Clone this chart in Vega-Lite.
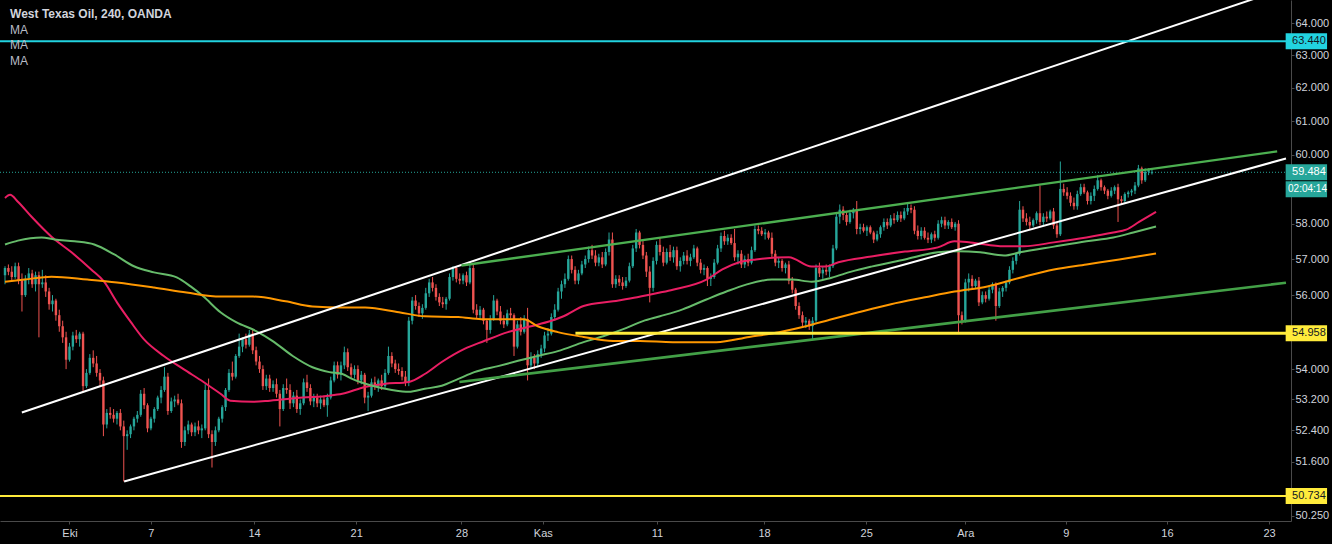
{
"$schema": "https://vega.github.io/schema/vega-lite/v6.json",
"width": 1291, "height": 521,
"autosize": {"type": "none"},
"padding": {"left": 0, "top": 0, "right": 41, "bottom": 23},
"background": "#000000",
"config": {"view": {"stroke": null}, "axis": {"grid": false, "domainColor": "#4a4a4a", "tickColor": "#4a4a4a", "labelColor": "#d1d4dc", "labelFont": "Liberation Sans", "labelFontSize": 11, "title": null}},
"datasets": {
"candles": [
{"i":0,"o":56.55,"h":56.8,"l":56.3,"c":56.75},{"i":1,"o":56.75,"h":56.85,"l":56.55,"c":56.65},{"i":2,"o":56.65,"h":56.8,"l":56.4,"c":56.5},{"i":3,"o":56.5,"h":56.9,"l":56.45,"c":56.8},{"i":4,"o":56.8,"h":56.9,"l":56.3,"c":56.4},{"i":5,"o":56.4,"h":56.6,"l":55.55,"c":56.0},{"i":6,"o":56.0,"h":56.55,"l":55.95,"c":56.45},{"i":7,"o":56.45,"h":56.75,"l":56.3,"c":56.6},{"i":8,"o":56.6,"h":56.7,"l":56.2,"c":56.3},{"i":9,"o":56.3,"h":56.65,"l":56.1,"c":56.55},
{"i":10,"o":56.55,"h":56.65,"l":54.85,"c":56.3},{"i":11,"o":56.3,"h":56.7,"l":56.2,"c":56.35},{"i":12,"o":56.35,"h":56.55,"l":55.95,"c":56.1},{"i":13,"o":56.1,"h":56.2,"l":55.6,"c":55.75},{"i":14,"o":55.75,"h":56.0,"l":55.55,"c":55.85},{"i":15,"o":55.85,"h":55.9,"l":55.3,"c":55.45},{"i":16,"o":55.45,"h":55.6,"l":55.0,"c":55.15},{"i":17,"o":55.15,"h":55.3,"l":54.7,"c":54.85},{"i":18,"o":54.85,"h":55.0,"l":54.0,"c":54.25},{"i":19,"o":54.25,"h":54.7,"l":54.2,"c":54.6},
{"i":20,"o":54.6,"h":55.0,"l":54.5,"c":54.9},{"i":21,"o":54.9,"h":55.05,"l":54.7,"c":54.8},{"i":22,"o":54.8,"h":55.0,"l":54.6,"c":54.95},{"i":23,"o":54.95,"h":55.0,"l":53.4,"c":53.55},{"i":24,"o":53.55,"h":54.0,"l":53.5,"c":53.9},{"i":25,"o":53.9,"h":54.4,"l":53.85,"c":54.3},{"i":26,"o":54.3,"h":54.5,"l":54.05,"c":54.15},{"i":27,"o":54.15,"h":54.35,"l":53.8,"c":53.9},{"i":28,"o":53.9,"h":54.0,"l":53.55,"c":53.7},{"i":29,"o":53.7,"h":53.8,"l":52.25,"c":52.55},
{"i":30,"o":52.55,"h":52.95,"l":52.45,"c":52.85},{"i":31,"o":52.85,"h":53.0,"l":52.7,"c":52.8},{"i":32,"o":52.8,"h":52.95,"l":52.6,"c":52.7},{"i":33,"o":52.7,"h":52.9,"l":52.55,"c":52.85},{"i":34,"o":52.85,"h":52.95,"l":52.4,"c":52.5},{"i":35,"o":52.5,"h":52.65,"l":51.1,"c":52.25},{"i":36,"o":52.25,"h":52.4,"l":51.9,"c":52.3},{"i":37,"o":52.3,"h":52.55,"l":52.2,"c":52.5},{"i":38,"o":52.5,"h":52.75,"l":52.4,"c":52.7},{"i":39,"o":52.7,"h":52.9,"l":52.6,"c":52.8},
{"i":40,"o":52.8,"h":53.45,"l":52.75,"c":53.35},{"i":41,"o":53.35,"h":53.5,"l":52.95,"c":53.05},{"i":42,"o":53.05,"h":53.1,"l":52.35,"c":52.45},{"i":43,"o":52.45,"h":52.75,"l":52.4,"c":52.7},{"i":44,"o":52.7,"h":53.0,"l":52.6,"c":52.95},{"i":45,"o":52.95,"h":53.3,"l":52.9,"c":53.25},{"i":46,"o":53.25,"h":53.55,"l":53.1,"c":53.45},{"i":47,"o":53.45,"h":54.05,"l":53.4,"c":53.8},{"i":48,"o":53.8,"h":53.9,"l":52.8,"c":52.9},{"i":49,"o":52.9,"h":53.25,"l":52.85,"c":53.15},
{"i":50,"o":53.15,"h":53.3,"l":53.0,"c":53.2},{"i":51,"o":53.2,"h":53.35,"l":53.05,"c":53.1},{"i":52,"o":53.1,"h":53.2,"l":51.95,"c":52.1},{"i":53,"o":52.1,"h":52.5,"l":52.0,"c":52.4},{"i":54,"o":52.4,"h":52.65,"l":52.3,"c":52.55},{"i":55,"o":52.55,"h":52.6,"l":52.25,"c":52.35},{"i":56,"o":52.35,"h":52.6,"l":52.25,"c":52.5},{"i":57,"o":52.5,"h":52.65,"l":52.3,"c":52.4},{"i":58,"o":52.4,"h":52.55,"l":52.2,"c":52.45},{"i":59,"o":52.45,"h":53.6,"l":52.4,"c":53.45},
{"i":60,"o":53.45,"h":53.75,"l":52.2,"c":52.3},{"i":61,"o":52.3,"h":52.4,"l":51.45,"c":52.1},{"i":62,"o":52.1,"h":52.5,"l":52.0,"c":52.4},{"i":63,"o":52.4,"h":52.75,"l":52.35,"c":52.7},{"i":64,"o":52.7,"h":53.05,"l":52.6,"c":53.0},{"i":65,"o":53.0,"h":53.5,"l":52.9,"c":53.45},{"i":66,"o":53.45,"h":54.0,"l":53.4,"c":53.9},{"i":67,"o":53.9,"h":54.2,"l":53.7,"c":53.8},{"i":68,"o":53.8,"h":54.4,"l":53.75,"c":54.35},{"i":69,"o":54.35,"h":54.95,"l":54.3,"c":54.6},
{"i":70,"o":54.6,"h":54.85,"l":54.45,"c":54.8},{"i":71,"o":54.8,"h":54.95,"l":54.55,"c":54.65},{"i":72,"o":54.65,"h":55.05,"l":54.6,"c":54.95},{"i":73,"o":54.95,"h":55.05,"l":54.4,"c":54.5},{"i":74,"o":54.5,"h":54.6,"l":54.1,"c":54.2},{"i":75,"o":54.2,"h":54.35,"l":53.9,"c":54.0},{"i":76,"o":54.0,"h":54.1,"l":53.45,"c":53.55},{"i":77,"o":53.55,"h":53.85,"l":53.45,"c":53.75},{"i":78,"o":53.75,"h":53.85,"l":53.4,"c":53.5},{"i":79,"o":53.5,"h":53.7,"l":53.4,"c":53.6},
{"i":80,"o":53.6,"h":53.75,"l":53.25,"c":53.35},{"i":81,"o":53.35,"h":53.45,"l":52.5,"c":52.95},{"i":82,"o":52.95,"h":53.6,"l":52.9,"c":53.5},{"i":83,"o":53.5,"h":53.75,"l":53.35,"c":53.45},{"i":84,"o":53.45,"h":53.6,"l":52.95,"c":53.1},{"i":85,"o":53.1,"h":53.4,"l":53.0,"c":53.3},{"i":86,"o":53.3,"h":53.45,"l":52.85,"c":52.95},{"i":87,"o":52.95,"h":53.2,"l":52.8,"c":53.1},{"i":88,"o":53.1,"h":53.75,"l":53.05,"c":53.65},{"i":89,"o":53.65,"h":53.85,"l":53.4,"c":53.5},
{"i":90,"o":53.5,"h":53.6,"l":53.05,"c":53.15},{"i":91,"o":53.15,"h":53.35,"l":53.0,"c":53.25},{"i":92,"o":53.25,"h":53.35,"l":53.0,"c":53.1},{"i":93,"o":53.1,"h":53.3,"l":52.95,"c":53.2},{"i":94,"o":53.2,"h":53.3,"l":53.0,"c":53.05},{"i":95,"o":53.05,"h":53.35,"l":52.75,"c":53.25},{"i":96,"o":53.25,"h":53.8,"l":53.2,"c":53.7},{"i":97,"o":53.7,"h":54.2,"l":53.65,"c":54.1},{"i":98,"o":54.1,"h":54.2,"l":53.75,"c":53.85},{"i":99,"o":53.85,"h":54.2,"l":53.7,"c":54.1},
{"i":100,"o":54.1,"h":54.6,"l":54.0,"c":54.45},{"i":101,"o":54.45,"h":54.55,"l":53.95,"c":54.05},{"i":102,"o":54.05,"h":54.15,"l":53.75,"c":53.85},{"i":103,"o":53.85,"h":54.1,"l":53.75,"c":54.0},{"i":104,"o":54.0,"h":54.1,"l":53.6,"c":53.7},{"i":105,"o":53.7,"h":53.95,"l":53.6,"c":53.85},{"i":106,"o":53.85,"h":53.9,"l":53.1,"c":53.25},{"i":107,"o":53.25,"h":53.4,"l":52.9,"c":53.3},{"i":108,"o":53.3,"h":53.75,"l":53.25,"c":53.65},{"i":109,"o":53.65,"h":53.8,"l":53.45,"c":53.55},
{"i":110,"o":53.55,"h":53.75,"l":53.4,"c":53.7},{"i":111,"o":53.7,"h":53.85,"l":53.45,"c":53.55},{"i":112,"o":53.55,"h":54.0,"l":53.5,"c":53.9},{"i":113,"o":53.9,"h":54.6,"l":53.85,"c":54.35},{"i":114,"o":54.35,"h":54.45,"l":54.05,"c":54.15},{"i":115,"o":54.15,"h":54.25,"l":53.9,"c":54.0},{"i":116,"o":54.0,"h":54.15,"l":53.85,"c":53.95},{"i":117,"o":53.95,"h":54.05,"l":53.7,"c":53.8},{"i":118,"o":53.8,"h":53.95,"l":53.55,"c":53.65},{"i":119,"o":53.65,"h":55.4,"l":53.55,"c":55.3},
{"i":120,"o":55.3,"h":55.95,"l":55.2,"c":55.85},{"i":121,"o":55.85,"h":56.0,"l":55.6,"c":55.7},{"i":122,"o":55.7,"h":55.8,"l":55.4,"c":55.5},{"i":123,"o":55.5,"h":55.75,"l":55.35,"c":55.65},{"i":124,"o":55.65,"h":56.2,"l":55.6,"c":56.05},{"i":125,"o":56.05,"h":56.45,"l":55.95,"c":56.35},{"i":126,"o":56.35,"h":56.5,"l":56.1,"c":56.2},{"i":127,"o":56.2,"h":56.3,"l":55.85,"c":55.95},{"i":128,"o":55.95,"h":56.05,"l":55.7,"c":55.8},{"i":129,"o":55.8,"h":55.95,"l":55.65,"c":55.75},
{"i":130,"o":55.75,"h":55.95,"l":55.6,"c":55.9},{"i":131,"o":55.9,"h":56.6,"l":55.85,"c":56.5},{"i":132,"o":56.5,"h":56.8,"l":56.4,"c":56.75},{"i":133,"o":56.75,"h":56.8,"l":56.35,"c":56.45},{"i":134,"o":56.45,"h":56.6,"l":56.3,"c":56.4},{"i":135,"o":56.4,"h":56.6,"l":56.3,"c":56.55},{"i":136,"o":56.55,"h":56.65,"l":56.25,"c":56.35},{"i":137,"o":56.35,"h":56.9,"l":56.3,"c":56.75},{"i":138,"o":56.75,"h":56.85,"l":55.5,"c":55.6},{"i":139,"o":55.6,"h":55.75,"l":55.35,"c":55.45},
{"i":140,"o":55.45,"h":55.7,"l":55.35,"c":55.6},{"i":141,"o":55.6,"h":55.65,"l":55.2,"c":55.3},{"i":142,"o":55.3,"h":55.35,"l":54.7,"c":55.05},{"i":143,"o":55.05,"h":55.45,"l":54.95,"c":55.35},{"i":144,"o":55.35,"h":56.0,"l":55.3,"c":55.85},{"i":145,"o":55.85,"h":55.9,"l":55.45,"c":55.55},{"i":146,"o":55.55,"h":55.7,"l":55.2,"c":55.3},{"i":147,"o":55.3,"h":55.45,"l":55.1,"c":55.2},{"i":148,"o":55.2,"h":55.6,"l":55.15,"c":55.5},{"i":149,"o":55.5,"h":55.65,"l":55.35,"c":55.45},
{"i":150,"o":55.45,"h":55.5,"l":54.35,"c":54.6},{"i":151,"o":54.6,"h":55.3,"l":54.55,"c":55.2},{"i":152,"o":55.2,"h":55.4,"l":54.9,"c":55.0},{"i":153,"o":55.0,"h":55.45,"l":54.95,"c":55.35},{"i":154,"o":55.35,"h":55.65,"l":53.7,"c":54.1},{"i":155,"o":54.1,"h":54.45,"l":54.0,"c":54.3},{"i":156,"o":54.3,"h":54.4,"l":54.0,"c":54.15},{"i":157,"o":54.15,"h":54.5,"l":54.05,"c":54.4},{"i":158,"o":54.4,"h":54.65,"l":54.3,"c":54.55},{"i":159,"o":54.55,"h":55.0,"l":54.45,"c":54.9},
{"i":160,"o":54.9,"h":55.1,"l":54.75,"c":54.95},{"i":161,"o":54.95,"h":55.5,"l":54.9,"c":55.4},{"i":162,"o":55.4,"h":55.75,"l":55.3,"c":55.6},{"i":163,"o":55.6,"h":56.2,"l":55.55,"c":56.1},{"i":164,"o":56.1,"h":56.4,"l":55.9,"c":56.3},{"i":165,"o":56.3,"h":56.6,"l":56.2,"c":56.45},{"i":166,"o":56.45,"h":57.1,"l":56.4,"c":57.0},{"i":167,"o":57.0,"h":57.1,"l":56.6,"c":56.7},{"i":168,"o":56.7,"h":56.8,"l":56.3,"c":56.4},{"i":169,"o":56.4,"h":56.7,"l":56.3,"c":56.6},
{"i":170,"o":56.6,"h":56.95,"l":56.55,"c":56.85},{"i":171,"o":56.85,"h":57.1,"l":56.75,"c":57.0},{"i":172,"o":57.0,"h":57.35,"l":56.9,"c":57.25},{"i":173,"o":57.25,"h":57.4,"l":57.0,"c":57.1},{"i":174,"o":57.1,"h":57.25,"l":56.8,"c":56.9},{"i":175,"o":56.9,"h":57.15,"l":56.8,"c":57.05},{"i":176,"o":57.05,"h":57.2,"l":56.75,"c":56.85},{"i":177,"o":56.85,"h":57.3,"l":56.8,"c":57.2},{"i":178,"o":57.2,"h":57.75,"l":57.1,"c":57.55},{"i":179,"o":57.55,"h":57.75,"l":56.2,"c":56.3},
{"i":180,"o":56.3,"h":56.55,"l":56.2,"c":56.45},{"i":181,"o":56.45,"h":56.55,"l":56.25,"c":56.35},{"i":182,"o":56.35,"h":56.5,"l":56.15,"c":56.25},{"i":183,"o":56.25,"h":56.5,"l":56.2,"c":56.4},{"i":184,"o":56.4,"h":56.9,"l":56.35,"c":56.8},{"i":185,"o":56.8,"h":57.4,"l":56.75,"c":57.3},{"i":186,"o":57.3,"h":57.85,"l":57.2,"c":57.75},{"i":187,"o":57.75,"h":57.8,"l":57.3,"c":57.4},{"i":188,"o":57.4,"h":57.55,"l":57.0,"c":57.1},{"i":189,"o":57.1,"h":57.2,"l":56.5,"c":56.65},
{"i":190,"o":56.65,"h":56.8,"l":55.8,"c":56.2},{"i":191,"o":56.2,"h":57.05,"l":56.1,"c":56.95},{"i":192,"o":56.95,"h":57.5,"l":56.85,"c":57.4},{"i":193,"o":57.4,"h":57.6,"l":57.1,"c":57.2},{"i":194,"o":57.2,"h":57.35,"l":56.8,"c":56.9},{"i":195,"o":56.9,"h":57.3,"l":56.85,"c":57.2},{"i":196,"o":57.2,"h":57.4,"l":56.95,"c":57.05},{"i":197,"o":57.05,"h":57.35,"l":56.9,"c":57.25},{"i":198,"o":57.25,"h":57.35,"l":56.7,"c":56.8},{"i":199,"o":56.8,"h":57.05,"l":56.65,"c":56.95},
{"i":200,"o":56.95,"h":57.2,"l":56.85,"c":57.1},{"i":201,"o":57.1,"h":57.25,"l":56.85,"c":56.95},{"i":202,"o":56.95,"h":57.15,"l":56.8,"c":57.05},{"i":203,"o":57.05,"h":57.4,"l":57.0,"c":57.3},{"i":204,"o":57.3,"h":57.35,"l":56.8,"c":56.9},{"i":205,"o":56.9,"h":57.0,"l":56.6,"c":56.7},{"i":206,"o":56.7,"h":56.85,"l":56.55,"c":56.75},{"i":207,"o":56.75,"h":56.8,"l":56.25,"c":56.45},{"i":208,"o":56.45,"h":56.6,"l":56.25,"c":56.5},{"i":209,"o":56.5,"h":57.0,"l":56.45,"c":56.9},
{"i":210,"o":56.9,"h":57.4,"l":56.85,"c":57.3},{"i":211,"o":57.3,"h":57.75,"l":57.2,"c":57.65},{"i":212,"o":57.65,"h":57.8,"l":57.4,"c":57.5},{"i":213,"o":57.5,"h":57.7,"l":57.4,"c":57.6},{"i":214,"o":57.6,"h":57.7,"l":57.4,"c":57.45},{"i":215,"o":57.45,"h":57.85,"l":56.95,"c":57.05},{"i":216,"o":57.05,"h":57.25,"l":56.85,"c":57.15},{"i":217,"o":57.15,"h":57.25,"l":56.75,"c":56.85},{"i":218,"o":56.85,"h":57.1,"l":56.75,"c":57.0},{"i":219,"o":57.0,"h":57.15,"l":56.8,"c":56.9},
{"i":220,"o":56.9,"h":57.35,"l":56.85,"c":57.25},{"i":221,"o":57.25,"h":57.95,"l":57.2,"c":57.85},{"i":222,"o":57.85,"h":57.95,"l":57.7,"c":57.8},{"i":223,"o":57.8,"h":57.9,"l":57.65,"c":57.7},{"i":224,"o":57.7,"h":57.85,"l":57.55,"c":57.75},{"i":225,"o":57.75,"h":57.8,"l":57.55,"c":57.6},{"i":226,"o":57.6,"h":57.75,"l":57.05,"c":57.15},{"i":227,"o":57.15,"h":57.25,"l":56.8,"c":56.9},{"i":228,"o":56.9,"h":57.05,"l":56.75,"c":56.95},{"i":229,"o":56.95,"h":57.0,"l":56.65,"c":56.75},
{"i":230,"o":56.75,"h":56.9,"l":56.6,"c":56.85},{"i":231,"o":56.85,"h":56.95,"l":56.3,"c":56.4},{"i":232,"o":56.4,"h":56.5,"l":56.05,"c":56.15},{"i":233,"o":56.15,"h":56.2,"l":55.6,"c":55.7},{"i":234,"o":55.7,"h":55.8,"l":55.35,"c":55.45},{"i":235,"o":55.45,"h":55.55,"l":55.15,"c":55.25},{"i":236,"o":55.25,"h":55.4,"l":55.1,"c":55.3},{"i":237,"o":55.3,"h":55.35,"l":55.05,"c":55.15},{"i":238,"o":55.15,"h":55.4,"l":54.8,"c":55.3},{"i":239,"o":55.3,"h":56.85,"l":55.25,"c":56.75},
{"i":240,"o":56.75,"h":56.9,"l":56.5,"c":56.6},{"i":241,"o":56.6,"h":56.8,"l":56.45,"c":56.7},{"i":242,"o":56.7,"h":56.85,"l":56.55,"c":56.65},{"i":243,"o":56.65,"h":56.85,"l":56.5,"c":56.8},{"i":244,"o":56.8,"h":57.4,"l":56.75,"c":57.3},{"i":245,"o":57.3,"h":58.3,"l":57.25,"c":58.2},{"i":246,"o":58.2,"h":58.55,"l":58.0,"c":58.4},{"i":247,"o":58.4,"h":58.5,"l":58.1,"c":58.25},{"i":248,"o":58.25,"h":58.35,"l":57.95,"c":58.05},{"i":249,"o":58.05,"h":58.4,"l":58.0,"c":58.3},
{"i":250,"o":58.3,"h":58.45,"l":58.15,"c":58.4},{"i":251,"o":58.4,"h":58.65,"l":57.7,"c":57.85},{"i":252,"o":57.85,"h":58.0,"l":57.7,"c":57.9},{"i":253,"o":57.9,"h":58.0,"l":57.75,"c":57.8},{"i":254,"o":57.8,"h":57.95,"l":57.65,"c":57.9},{"i":255,"o":57.9,"h":57.95,"l":57.7,"c":57.75},{"i":256,"o":57.75,"h":57.8,"l":57.45,"c":57.55},{"i":257,"o":57.55,"h":57.8,"l":57.5,"c":57.7},{"i":258,"o":57.7,"h":57.95,"l":57.6,"c":57.9},{"i":259,"o":57.9,"h":58.15,"l":57.8,"c":58.05},
{"i":260,"o":58.05,"h":58.15,"l":57.85,"c":57.95},{"i":261,"o":57.95,"h":58.25,"l":57.9,"c":58.15},{"i":262,"o":58.15,"h":58.3,"l":58.0,"c":58.1},{"i":263,"o":58.1,"h":58.35,"l":58.05,"c":58.25},{"i":264,"o":58.25,"h":58.35,"l":58.05,"c":58.15},{"i":265,"o":58.15,"h":58.45,"l":58.1,"c":58.35},{"i":266,"o":58.35,"h":58.6,"l":58.25,"c":58.45},{"i":267,"o":58.45,"h":58.55,"l":58.3,"c":58.4},{"i":268,"o":58.4,"h":58.5,"l":57.7,"c":57.8},{"i":269,"o":57.8,"h":57.95,"l":57.55,"c":57.65},
{"i":270,"o":57.65,"h":57.9,"l":57.55,"c":57.8},{"i":271,"o":57.8,"h":57.9,"l":57.55,"c":57.6},{"i":272,"o":57.6,"h":57.75,"l":57.45,"c":57.55},{"i":273,"o":57.55,"h":57.75,"l":57.45,"c":57.7},{"i":274,"o":57.7,"h":57.8,"l":57.5,"c":57.6},{"i":275,"o":57.6,"h":58.1,"l":57.55,"c":58.0},{"i":276,"o":58.0,"h":58.2,"l":57.9,"c":58.1},{"i":277,"o":58.1,"h":58.2,"l":57.85,"c":57.95},{"i":278,"o":57.95,"h":58.1,"l":57.85,"c":58.05},{"i":279,"o":58.05,"h":58.15,"l":57.85,"c":57.9},
{"i":280,"o":57.9,"h":58.05,"l":57.8,"c":58.0},{"i":281,"o":58.0,"h":58.1,"l":54.95,"c":55.45},{"i":282,"o":55.45,"h":55.55,"l":55.2,"c":55.3},{"i":283,"o":55.3,"h":56.45,"l":55.25,"c":56.35},{"i":284,"o":56.35,"h":56.6,"l":56.1,"c":56.45},{"i":285,"o":56.45,"h":56.55,"l":56.15,"c":56.25},{"i":286,"o":56.25,"h":56.45,"l":56.2,"c":56.4},{"i":287,"o":56.4,"h":56.5,"l":55.7,"c":55.8},{"i":288,"o":55.8,"h":56.1,"l":55.75,"c":56.0},{"i":289,"o":56.0,"h":56.1,"l":55.8,"c":55.9},
{"i":290,"o":55.9,"h":56.25,"l":55.85,"c":56.15},{"i":291,"o":56.15,"h":56.35,"l":56.05,"c":56.3},{"i":292,"o":56.3,"h":56.35,"l":55.3,"c":55.7},{"i":293,"o":55.7,"h":56.2,"l":55.65,"c":56.1},{"i":294,"o":56.1,"h":56.25,"l":55.95,"c":56.2},{"i":295,"o":56.2,"h":56.4,"l":56.1,"c":56.35},{"i":296,"o":56.35,"h":56.8,"l":56.3,"c":56.7},{"i":297,"o":56.7,"h":57.05,"l":56.6,"c":56.95},{"i":298,"o":56.95,"h":57.2,"l":56.85,"c":57.15},{"i":299,"o":57.15,"h":58.65,"l":57.1,"c":58.4},
{"i":300,"o":58.4,"h":58.5,"l":58.05,"c":58.15},{"i":301,"o":58.15,"h":58.3,"l":57.95,"c":58.05},{"i":302,"o":58.05,"h":58.2,"l":57.85,"c":57.95},{"i":303,"o":57.95,"h":58.15,"l":57.9,"c":58.1},{"i":304,"o":58.1,"h":58.35,"l":58.0,"c":58.3},{"i":305,"o":58.3,"h":59.1,"l":57.95,"c":58.05},{"i":306,"o":58.05,"h":58.3,"l":57.95,"c":58.2},{"i":307,"o":58.2,"h":58.35,"l":58.05,"c":58.15},{"i":308,"o":58.15,"h":58.4,"l":58.1,"c":58.35},{"i":309,"o":58.35,"h":58.45,"l":57.85,"c":57.95},
{"i":310,"o":57.95,"h":58.05,"l":57.6,"c":57.7},{"i":311,"o":57.7,"h":59.8,"l":57.65,"c":59.0},{"i":312,"o":59.0,"h":59.15,"l":58.8,"c":58.9},{"i":313,"o":58.9,"h":59.05,"l":58.7,"c":58.8},{"i":314,"o":58.8,"h":58.9,"l":58.5,"c":58.6},{"i":315,"o":58.6,"h":58.75,"l":58.4,"c":58.5},{"i":316,"o":58.5,"h":58.95,"l":58.4,"c":58.85},{"i":317,"o":58.85,"h":59.15,"l":58.8,"c":59.05},{"i":318,"o":59.05,"h":59.15,"l":58.85,"c":58.9},{"i":319,"o":58.9,"h":58.95,"l":58.55,"c":58.65},
{"i":320,"o":58.65,"h":58.9,"l":58.55,"c":58.8},{"i":321,"o":58.8,"h":59.1,"l":58.65,"c":59.0},{"i":322,"o":59.0,"h":59.4,"l":58.95,"c":59.25},{"i":323,"o":59.25,"h":59.3,"l":58.95,"c":59.05},{"i":324,"o":59.05,"h":59.1,"l":58.85,"c":58.95},{"i":325,"o":58.95,"h":59.0,"l":58.7,"c":58.8},{"i":326,"o":58.8,"h":59.05,"l":58.75,"c":58.95},{"i":327,"o":58.95,"h":59.1,"l":58.85,"c":59.05},{"i":328,"o":59.05,"h":59.15,"l":58.05,"c":58.7},{"i":329,"o":58.7,"h":58.8,"l":58.55,"c":58.65},
{"i":330,"o":58.65,"h":58.9,"l":58.6,"c":58.85},{"i":331,"o":58.85,"h":58.95,"l":58.75,"c":58.9},{"i":332,"o":58.9,"h":59.0,"l":58.8,"c":58.95},{"i":333,"o":58.95,"h":59.2,"l":58.85,"c":59.1},{"i":334,"o":59.1,"h":59.7,"l":59.05,"c":59.6},{"i":335,"o":59.6,"h":59.65,"l":59.15,"c":59.25},{"i":336,"o":59.25,"h":59.6,"l":59.2,"c":59.5},{"i":337,"o":59.5,"h":59.6,"l":59.4,"c":59.55},{"i":338,"o":59.46,"h":59.58,"l":59.42,"c":59.484}
],
"ma": [
{"s":"MA1","b":0,"p":58.74},{"s":"MA1","b":1.5,"p":58.83},{"s":"MA1","b":3.8,"p":58.63},{"s":"MA1","b":7.9,"p":58.19},{"s":"MA1","b":13.7,"p":57.63},{"s":"MA1","b":19.6,"p":57.19},{"s":"MA1","b":25.4,"p":56.71},{"s":"MA1","b":29.2,"p":56.37},{"s":"MA1","b":33,"p":55.8},{"s":"MA1","b":37.1,"p":55.26},{"s":"MA1","b":40.9,"p":54.8},{"s":"MA1","b":46.8,"p":54.35},{"s":"MA1","b":52.6,"p":54.0},{"s":"MA1","b":58.5,"p":53.66},{"s":"MA1","b":63.5,"p":53.35},{"s":"MA1","b":66.4,"p":53.17},{"s":"MA1","b":73.1,"p":53.14},{"s":"MA1","b":78.1,"p":53.17},{"s":"MA1","b":87.7,"p":53.25},{"s":"MA1","b":95.6,"p":53.3},{"s":"MA1","b":99.4,"p":53.35},{"s":"MA1","b":106.1,"p":53.53},{"s":"MA1","b":112,"p":53.61},{"s":"MA1","b":119,"p":53.66},{"s":"MA1","b":123.7,"p":53.87},{"s":"MA1","b":128.7,"p":54.19},{"s":"MA1","b":135.4,"p":54.54},{"s":"MA1","b":141.2,"p":54.75},{"s":"MA1","b":148.2,"p":54.99},{"s":"MA1","b":155,"p":55.15},{"s":"MA1","b":160.8,"p":55.29},{"s":"MA1","b":164.6,"p":55.42},{"s":"MA1","b":170.5,"p":55.7},{"s":"MA1","b":179.2,"p":55.83},{"s":"MA1","b":186.3,"p":55.94},{"s":"MA1","b":193,"p":56.07},{"s":"MA1","b":196.8,"p":56.15},{"s":"MA1","b":206.7,"p":56.43},{"s":"MA1","b":211.4,"p":56.71},{"s":"MA1","b":216.4,"p":56.91},{"s":"MA1","b":221.3,"p":56.99},{"s":"MA1","b":231,"p":57.05},{"s":"MA1","b":237.7,"p":56.79},{"s":"MA1","b":241.8,"p":56.79},{"s":"MA1","b":245.6,"p":56.91},{"s":"MA1","b":255.3,"p":57.07},{"s":"MA1","b":265.2,"p":57.21},{"s":"MA1","b":274.9,"p":57.33},{"s":"MA1","b":279.8,"p":57.5},{"s":"MA1","b":284.5,"p":57.47},{"s":"MA1","b":294.4,"p":57.36},{"s":"MA1","b":300.3,"p":57.36},{"s":"MA1","b":309.1,"p":57.47},{"s":"MA1","b":318.7,"p":57.61},{"s":"MA1","b":326.6,"p":57.75},{"s":"MA1","b":330.4,"p":57.83},{"s":"MA1","b":334.2,"p":58.05},{"s":"MA1","b":339.2,"p":58.34},
{"s":"MA2","b":0,"p":57.41},{"s":"MA2","b":3.8,"p":57.52},{"s":"MA2","b":10.8,"p":57.61},{"s":"MA2","b":14.6,"p":57.55},{"s":"MA2","b":20.5,"p":57.5},{"s":"MA2","b":26.3,"p":57.41},{"s":"MA2","b":32.2,"p":57.13},{"s":"MA2","b":38,"p":56.8},{"s":"MA2","b":43.9,"p":56.63},{"s":"MA2","b":50.6,"p":56.49},{"s":"MA2","b":54.7,"p":56.24},{"s":"MA2","b":58.5,"p":55.96},{"s":"MA2","b":63.5,"p":55.53},{"s":"MA2","b":68.1,"p":55.26},{"s":"MA2","b":74,"p":55.02},{"s":"MA2","b":78.9,"p":54.75},{"s":"MA2","b":84.8,"p":54.35},{"s":"MA2","b":90.6,"p":54.05},{"s":"MA2","b":95.6,"p":53.92},{"s":"MA2","b":99.4,"p":53.87},{"s":"MA2","b":102.3,"p":53.74},{"s":"MA2","b":108.2,"p":53.56},{"s":"MA2","b":114,"p":53.45},{"s":"MA2","b":119,"p":53.4},{"s":"MA2","b":123.7,"p":53.48},{"s":"MA2","b":128.7,"p":53.56},{"s":"MA2","b":133.6,"p":53.74},{"s":"MA2","b":138.3,"p":53.92},{"s":"MA2","b":145.3,"p":54.08},{"s":"MA2","b":151.2,"p":54.22},{"s":"MA2","b":157,"p":54.35},{"s":"MA2","b":162.9,"p":54.48},{"s":"MA2","b":170.5,"p":54.72},{"s":"MA2","b":176.3,"p":54.88},{"s":"MA2","b":182.2,"p":55.07},{"s":"MA2","b":188,"p":55.29},{"s":"MA2","b":193,"p":55.42},{"s":"MA2","b":199.7,"p":55.61},{"s":"MA2","b":206.7,"p":55.88},{"s":"MA2","b":212.6,"p":56.1},{"s":"MA2","b":218.4,"p":56.29},{"s":"MA2","b":226,"p":56.43},{"s":"MA2","b":231.9,"p":56.43},{"s":"MA2","b":237.7,"p":56.37},{"s":"MA2","b":243.6,"p":56.48},{"s":"MA2","b":249.4,"p":56.65},{"s":"MA2","b":255.3,"p":56.79},{"s":"MA2","b":265.2,"p":56.99},{"s":"MA2","b":274.9,"p":57.19},{"s":"MA2","b":280.7,"p":57.22},{"s":"MA2","b":287.4,"p":57.19},{"s":"MA2","b":294.4,"p":57.1},{"s":"MA2","b":299.1,"p":57.19},{"s":"MA2","b":309.1,"p":57.35},{"s":"MA2","b":318.7,"p":57.5},{"s":"MA2","b":326.6,"p":57.61},{"s":"MA2","b":332.5,"p":57.75},{"s":"MA2","b":339.2,"p":57.92},
{"s":"MA3","b":0,"p":56.37},{"s":"MA3","b":5.8,"p":56.43},{"s":"MA3","b":13.7,"p":56.51},{"s":"MA3","b":24.3,"p":56.43},{"s":"MA3","b":33,"p":56.35},{"s":"MA3","b":43.9,"p":56.21},{"s":"MA3","b":53.5,"p":56.07},{"s":"MA3","b":63.5,"p":55.96},{"s":"MA3","b":73.1,"p":55.96},{"s":"MA3","b":82.7,"p":55.83},{"s":"MA3","b":90.6,"p":55.69},{"s":"MA3","b":99.4,"p":55.66},{"s":"MA3","b":106.1,"p":55.66},{"s":"MA3","b":116.1,"p":55.53},{"s":"MA3","b":123.7,"p":55.42},{"s":"MA3","b":133.6,"p":55.4},{"s":"MA3","b":140.4,"p":55.34},{"s":"MA3","b":152.9,"p":55.34},{"s":"MA3","b":157,"p":55.15},{"s":"MA3","b":162.9,"p":54.99},{"s":"MA3","b":170.5,"p":54.86},{"s":"MA3","b":179.2,"p":54.75},{"s":"MA3","b":187.1,"p":54.75},{"s":"MA3","b":196.8,"p":54.72},{"s":"MA3","b":209.6,"p":54.72},{"s":"MA3","b":219.3,"p":54.86},{"s":"MA3","b":228.1,"p":54.99},{"s":"MA3","b":236,"p":55.15},{"s":"MA3","b":243.6,"p":55.34},{"s":"MA3","b":251.5,"p":55.53},{"s":"MA3","b":261.1,"p":55.75},{"s":"MA3","b":271.1,"p":55.94},{"s":"MA3","b":279.8,"p":56.1},{"s":"MA3","b":289.5,"p":56.24},{"s":"MA3","b":299.1,"p":56.48},{"s":"MA3","b":309.1,"p":56.71},{"s":"MA3","b":318.7,"p":56.85},{"s":"MA3","b":328.4,"p":56.99},{"s":"MA3","b":339.2,"p":57.16}
],
"lines": [
{"kind":"white","x1":4.97,"p1":52.86,"x2":377.5,"p2":65.12},
{"kind":"white","x1":35.1,"p1":51.1,"x2":377.5,"p2":59.89},
{"kind":"greenT","x1":134.5,"p1":56.82,"x2":374.9,"p2":60.1},
{"kind":"greenB","x1":133.9,"p1":53.66,"x2":377.5,"p2":56.34},
{"kind":"yellow","x1":168.1,"p1":54.958,"x2":377.5,"p2":54.958}
],
"levels": [
{"p":63.44,"t":"63.440","k":"cyan"},
{"p":59.484,"t":"59.484","k":"teal"},
{"p":54.958,"t":"54.958","k":"yellow"},
{"p":50.734,"t":"50.734","k":"yellow"}
],
"timer": [{"p":59.484,"t":"02:04:14"}]
},
"layer": [
{"data": {"name": "levels"}, "transform": [{"filter": "datum.k == 'teal'"}],
 "mark": {"type": "rule", "color": "#26a69a", "strokeDash": [1, 2], "strokeWidth": 1},
 "encoding": {"y": {"field": "p", "type": "quantitative"}}},
{"data": {"name": "candles"},
 "mark": {"type": "rule", "strokeWidth": 1},
 "encoding": {
  "x": {"field": "i", "type": "quantitative", "scale": {"domain": [0, 377.5], "nice": false, "zero": false},
        "axis": {"title": null, "values": [19, 43, 73.4, 103.5, 134.5, 158.5, 192.1, 223.7, 253.8, 283, 312.6, 342.4, 372.5],
                 "labelExpr": "['Eki','7','14','21','28','Kas','11','18','25','Ara','9','16','23'][indexof([19, 43, 73.4, 103.5, 134.5, 158.5, 192.1, 223.7, 253.8, 283, 312.6, 342.4, 372.5], datum.value)]",
                 "tickSize": 3, "labelPadding": 3, "labelOverlap": false, "labelFlush": false}},
  "y": {"field": "l", "type": "quantitative", "scale": {"type": "log", "domain": [50.116, 64.74], "nice": false},
        "axis": {"title": null, "orient": "right", "values": [50.25, 51.6, 52.4, 53.2, 54, 56, 57, 58, 60, 61, 62, 63, 64],
                 "format": ".3f", "tickSize": 3, "labelPadding": 1, "labelOverlap": false, "labelFlush": false}},
  "y2": {"field": "h"},
  "color": {"condition": {"test": "datum.c >= datum.o", "value": "#26a69a"}, "value": "#ef5350"}}},
{"data": {"name": "candles"},
 "mark": {"type": "bar", "width": 2.4},
 "encoding": {
  "x": {"field": "i", "type": "quantitative"},
  "y": {"field": "o", "type": "quantitative"},
  "y2": {"field": "c"},
  "color": {"condition": {"test": "datum.c >= datum.o", "value": "#26a69a"}, "value": "#ef5350"}}},
{"data": {"name": "ma"},
 "mark": {"type": "line", "strokeWidth": 2, "interpolate": "monotone"},
 "encoding": {
  "x": {"field": "b", "type": "quantitative"},
  "y": {"field": "p", "type": "quantitative"},
  "color": {"field": "s", "type": "nominal", "scale": {"domain": ["MA1", "MA2", "MA3"], "range": ["#e91e63", "#66bb6a", "#ff9800"]}, "legend": null}}},
{"data": {"name": "lines"},
 "mark": {"type": "rule", "clip": true},
 "encoding": {
  "x": {"field": "x1", "type": "quantitative"},
  "x2": {"field": "x2"},
  "y": {"field": "p1", "type": "quantitative"},
  "y2": {"field": "p2"},
  "color": {"field": "kind", "type": "nominal", "scale": {"domain": ["white", "greenT", "greenB", "yellow"], "range": ["#ffffff", "#4caf50", "#43a047", "#ffeb3b"]}, "legend": null},
  "strokeWidth": {"field": "kind", "type": "nominal", "scale": {"domain": ["white", "greenT", "greenB", "yellow"], "range": [2, 3, 1.6, 2]}, "legend": null}}},
{"data": {"name": "levels"}, "transform": [{"filter": "datum.t == '63.440' || datum.t == '50.734'"}],
 "mark": {"type": "rule", "strokeWidth": 2},
 "encoding": {
  "y": {"field": "p", "type": "quantitative"},
  "color": {"field": "k", "type": "nominal", "scale": {"domain": ["cyan", "yellow"], "range": ["#22d3e0", "#ffeb3b"]}, "legend": null}}},
{"data": {"name": "levels"},
 "mark": {"type": "rule", "strokeWidth": 16, "strokeCap": "butt"},
 "encoding": {
  "x": {"datum": 377.4, "type": "quantitative"},
  "x2": {"datum": 389.6},
  "y": {"field": "p", "type": "quantitative"},
  "color": {"field": "k", "type": "nominal", "scale": {"domain": ["cyan", "teal", "yellow"], "range": ["#22d3e0", "#26a69a", "#ffeb3b"]}, "legend": null}}},
{"data": {"name": "levels"},
 "mark": {"type": "text", "align": "left", "baseline": "middle", "fontSize": 11, "font": "Liberation Sans"},
 "encoding": {
  "x": {"datum": 379.3, "type": "quantitative"},
  "y": {"field": "p", "type": "quantitative"},
  "text": {"field": "t"},
  "color": {"field": "k", "type": "nominal", "scale": {"domain": ["cyan", "teal", "yellow"], "range": ["#131722", "#ffffff", "#131722"]}, "legend": null}}},
{"data": {"name": "timer"},
 "mark": {"type": "rule", "strokeWidth": 16, "strokeCap": "butt", "color": "#26a69a", "yOffset": 17},
 "encoding": {
  "x": {"datum": 377.4, "type": "quantitative"},
  "x2": {"datum": 389.6},
  "y": {"field": "p", "type": "quantitative"}}},
{"data": {"name": "timer"},
 "mark": {"type": "text", "align": "left", "baseline": "middle", "fontSize": 10, "font": "Liberation Sans", "color": "#ffffff", "yOffset": 17},
 "encoding": {
  "x": {"datum": 378.1, "type": "quantitative"},
  "y": {"field": "p", "type": "quantitative"},
  "text": {"field": "t"}}},
{"data": {"values": [{"t": "West Texas Oil, 240, OANDA"}]},
 "mark": {"type": "text", "align": "left", "baseline": "middle", "fontSize": 12, "font": "Liberation Sans", "fontWeight": "bold", "color": "#d1d4dc"},
 "encoding": {"x": {"datum": 1.5, "type": "quantitative"}, "y": {"datum": 64.29, "type": "quantitative"}, "text": {"field": "t"}}},
{"data": {"values": [{"t": "MA"}]},
 "mark": {"type": "text", "align": "left", "baseline": "middle", "fontSize": 12, "font": "Liberation Sans", "color": "#b8bcc6"},
 "encoding": {"x": {"datum": 1.5, "type": "quantitative"}, "y": {"datum": 63.79, "type": "quantitative"}, "text": {"field": "t"}}},
{"data": {"values": [{"t": "MA"}]},
 "mark": {"type": "text", "align": "left", "baseline": "middle", "fontSize": 12, "font": "Liberation Sans", "color": "#b8bcc6"},
 "encoding": {"x": {"datum": 1.5, "type": "quantitative"}, "y": {"datum": 63.31, "type": "quantitative"}, "text": {"field": "t"}}},
{"data": {"values": [{"t": "MA"}]},
 "mark": {"type": "text", "align": "left", "baseline": "middle", "fontSize": 12, "font": "Liberation Sans", "color": "#b8bcc6"},
 "encoding": {"x": {"datum": 1.5, "type": "quantitative"}, "y": {"datum": 62.83, "type": "quantitative"}, "text": {"field": "t"}}}
],
"resolve": {"scale": {"color": "independent", "strokeWidth": "independent"}}
}
